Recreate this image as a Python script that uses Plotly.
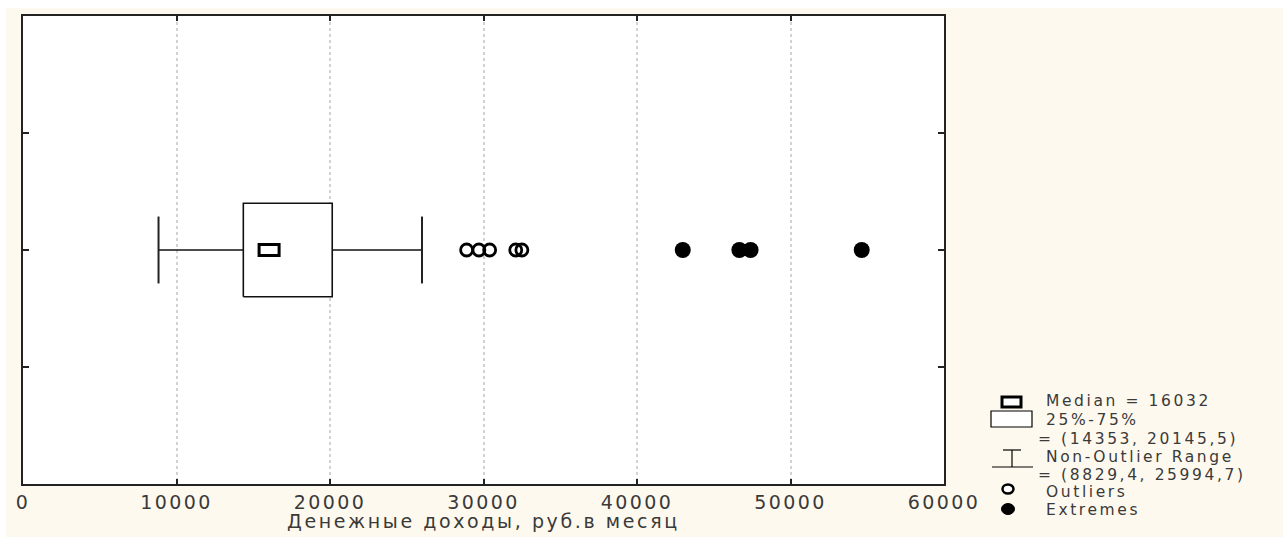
import plotly.graph_objects as go

# ---- data ----
median_val = 16032
q1_val = 14353
q3_val = 20145.5
whisk_low = 8829.4
whisk_high = 25994.7
outliers = [28900, 29700, 30400, 32100, 32500]
extremes = [42980, 46670, 47400, 54640]
x_ticks = [0, 10000, 20000, 30000, 40000, 50000, 60000]
y_ticks = [1, 2, 3]
x_title = "Денежные доходы, руб.в месяц"

def fmt(v):
    s = ("%g" % v)
    return s.replace(".", ",")

def spaced(t, ls):
    return f'<span style="letter-spacing:{ls}px">{t}</span>'

W, H = 1283, 537
ML, MR, MT, MB = 23, 339, 16, 53
PW, PH = W - ML - MR, H - MT - MB

def px(xp):
    return (xp - ML) / PW

def py(yp):
    return (H - MB - yp) / PH

FONT = "DejaVu Sans"
TXT = "#3a3a3a"
ycat = 2
box_half = 0.4
cap_half = 0.286

fig = go.Figure()

# whisker lines
fig.add_trace(go.Scatter(
    x=[whisk_low, q1_val, None, q3_val, whisk_high],
    y=[ycat, ycat, None, ycat, ycat],
    mode="lines", line=dict(color="#111", width=1.3), hoverinfo="skip", showlegend=False))
# whisker caps
fig.add_trace(go.Scatter(
    x=[whisk_low, whisk_low, None, whisk_high, whisk_high],
    y=[ycat - cap_half, ycat + cap_half, None, ycat - cap_half, ycat + cap_half],
    mode="lines", line=dict(color="#222", width=2), hoverinfo="skip", showlegend=False))
# box
fig.add_trace(go.Scatter(
    x=[q1_val, q3_val, q3_val, q1_val, q1_val],
    y=[ycat - box_half, ycat - box_half, ycat + box_half, ycat + box_half, ycat - box_half],
    mode="lines", fill="toself", fillcolor="white",
    line=dict(color="#111", width=1.6), hoverinfo="skip", showlegend=False))
# outliers
fig.add_trace(go.Scatter(
    x=outliers, y=[ycat] * len(outliers), mode="markers",
    marker=dict(symbol="circle-open", size=12, color="black", line=dict(width=2.8)),
    showlegend=False))
# extremes
fig.add_trace(go.Scatter(
    x=extremes, y=[ycat] * len(extremes), mode="markers",
    marker=dict(symbol="circle", size=16, color="black"),
    showlegend=False))

shapes = []
# cream background (drawn below) + white plot area
shapes.append(dict(type="rect", xref="paper", yref="paper", layer="below",
                   x0=px(6), x1=px(W), y0=py(H), y1=py(8),
                   fillcolor="#FEF9EE", line=dict(width=0)))
shapes.append(dict(type="rect", xref="paper", yref="paper", layer="below",
                   x0=0, x1=1, y0=0, y1=1, fillcolor="white", line=dict(width=0)))
# median marker (rectangle, pixel sized, anchored at median value)
shapes.append(dict(type="rect", xref="x", yref="y", layer="above",
                   xsizemode="pixel", xanchor=median_val, x0=-10, x1=10,
                   ysizemode="pixel", yanchor=ycat, y0=-5.5, y1=5.5,
                   fillcolor="white", line=dict(color="black", width=3)))

# ---- legend (custom) ----
def lrect(x0, y0, x1, y1, w, fill="white"):
    shapes.append(dict(type="rect", xref="paper", yref="paper",
                       x0=px(x0), x1=px(x1), y0=py(y1), y1=py(y0),
                       fillcolor=fill, line=dict(color="black", width=w)))

def lline(x0, y0, x1, y1, w):
    shapes.append(dict(type="line", xref="paper", yref="paper",
                       x0=px(x0), x1=px(x1), y0=py(y0), y1=py(y1),
                       line=dict(color="black", width=w)))

def lcircle(cx, cy, rx, ry, fill, w):
    shapes.append(dict(type="circle", xref="paper", yref="paper",
                       x0=px(cx - rx), x1=px(cx + rx), y0=py(cy + ry), y1=py(cy - ry),
                       fillcolor=fill, line=dict(color="black", width=w)))

lrect(1002, 397, 1021, 407, 3)
lrect(991, 411, 1032, 427, 1.2)
lline(992, 467, 1033, 467, 1.2)
lline(1012, 450, 1012, 467, 1.2)
lline(1003, 450, 1021, 450, 1.2)
lcircle(1008, 489, 5.5, 4.5, "white", 2.5)
lcircle(1008, 509, 6.5, 5.5, "black", 1)

leg_texts = [
    (1045, 401, f"Median = {median_val}"),
    (1045, 420, "25%-75%"),
    (1037, 439, f"= ({fmt(q1_val)}, {fmt(q3_val)})"),
    (1045, 457, "Non-Outlier Range"),
    (1037, 475, f"= ({fmt(whisk_low)}, {fmt(whisk_high)})"),
    (1045, 492, "Outliers"),
    (1045, 510, "Extremes"),
]
annotations = []
for lx, ly, t in leg_texts:
    annotations.append(dict(xref="paper", yref="paper", x=px(lx), y=py(ly),
                            xanchor="left", yanchor="middle", showarrow=False,
                            text=spaced(t, 2.6), borderpad=0,
                            font=dict(family=FONT, size=15.5, color=TXT)))
annotations.append(dict(xref="paper", yref="paper", x=0.5, y=py(521),
                        xanchor="center", yanchor="middle", showarrow=False,
                        text=spaced(x_title, 2.6),
                        font=dict(family=FONT, size=19, color=TXT)))

fig.update_layout(
    width=W, height=H, autosize=False,
    margin=dict(l=ML, r=MR, t=MT, b=MB, pad=0),
    paper_bgcolor="white", plot_bgcolor="rgba(0,0,0,0)",
    shapes=shapes, annotations=annotations,
    font=dict(family=FONT, color=TXT),
    xaxis=dict(range=[0, 60000], tickvals=x_ticks,
               ticktext=[spaced(str(v), 2.4) for v in x_ticks],
               ticks="inside", ticklen=5, tickcolor="#222", tickwidth=1.5,
               showline=True, linecolor="#222", linewidth=1.5, mirror="ticks",
               showgrid=True, gridcolor="#d2d2d2", gridwidth=2, griddash="dot",
               zeroline=False, tickfont=dict(family=FONT, size=19, color=TXT),
               fixedrange=True),
    yaxis=dict(range=[0, 4], tickvals=y_ticks, showticklabels=False,
               ticks="inside", ticklen=6, tickcolor="#222", tickwidth=1.5,
               showline=True, linecolor="#222", linewidth=1.5, mirror="ticks",
               showgrid=False, zeroline=False, fixedrange=True),
)

fig.write_html("out.html", config={"displayModeBar": False},
               post_script="document.body.style.margin='0';document.body.style.overflow='hidden';")
